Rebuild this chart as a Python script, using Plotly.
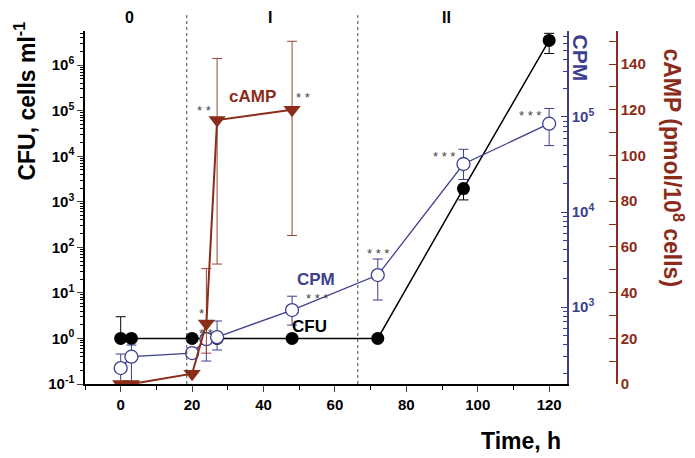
import plotly.graph_objects as go
import numpy as np

# time points (h)
t_cfu = [0, 3, 20, 24, 27, 48, 72, 96, 120]
cfu = [1, 1, 1, 1, 1, 1, 1, 1950, 3.5e6]
cfu_up = [2, None, None, None, None, None, None, None, 1.5e6]
cfu_dn = [None, None, None, None, None, None, None, 850, 1.7e6]

t_cpm = [0, 3, 20, 24, 27, 48, 72, 96, 120]
cpm = [228, 300, 328, 460, 483, 930, 2170, 32000, 85000]
cpm_up = [92, 98, None, 253, 230, 370, 1030, 13700, 38000]
cpm_dn = [90, 140, None, 190, 130, 285, 985, 10000, 35000]

t_camp = [0, 3, 20, 24, 27, 48]
camp = [0, 0, 4.5, 26.5, 115.5, 120]
camp_up = [None, None, None, 24, 27, 30]
camp_dn = [None, None, None, 13, 63, 55]

stars_cpm = {24: "* *", 48: "* * *", 72: "* * *", 96: "* * *", 120: "* * *"}
stars_camp = {24: "*", 27: "* *", 48: "* *"}

phase_x = [18.5, 66.4]
phase_lbl = [(2.6, "0"), (41.8, "I"), (91.3, "II")]

BROWN = "#8B2C1A"
BLUE = "#3C3F8E"
FONT = "Liberation Sans"

fig = go.Figure()

fig.add_trace(go.Scatter(
    x=t_cfu, y=cfu, mode="lines+markers", yaxis="y",
    line=dict(color="black", width=1.5),
    marker=dict(symbol="circle", size=13, color="black"),
    error_y=dict(type="data", symmetric=False, array=cfu_up, arrayminus=cfu_dn,
                 color="black", thickness=1, width=5),
    showlegend=False))

fig.add_trace(go.Scatter(
    x=t_cpm, y=cpm, mode="lines+markers", yaxis="y2",
    line=dict(color=BLUE, width=1.3),
    marker=dict(symbol="circle", size=13, color="white", line=dict(color=BLUE, width=1.3)),
    error_y=dict(type="data", symmetric=False, array=cpm_up, arrayminus=cpm_dn,
                 color=BLUE, thickness=1, width=5),
    showlegend=False))

fig.add_trace(go.Scatter(
    x=t_camp, y=camp, mode="lines+markers", yaxis="y3",
    line=dict(color=BROWN, width=2),
    marker=dict(symbol="triangle-down", size=15, color=BROWN),
    error_y=dict(type="data", symmetric=False, array=camp_up, arrayminus=camp_dn,
                 color="#9A4532", thickness=1, width=5),
    showlegend=False))

bold = dict(family=FONT, size=15, color="black", weight="bold")

# page body adds an 8px offset, margins compensate for it
fig.update_layout(
    width=695, height=458,
    margin=dict(l=77, r=68, t=23, b=82),
    plot_bgcolor="white", paper_bgcolor="white",
    xaxis=dict(domain=[0, 482 / 550], range=[-10, 125], tickvals=list(range(0, 121, 20)),
               ticks="outside", ticklen=6, tickwidth=1.3, showline=True, linecolor="black",
               linewidth=1.5, showgrid=False, zeroline=False, tickfont=bold,
               minor=dict(dtick=10, ticks="outside", ticklen=4, tickcolor="black")),
    yaxis=dict(type="log", range=[-1, 6.75], tickvals=[10.0 ** k for k in range(-1, 7)],
               ticktext=["10<sup>%d</sup>" % k for k in range(-1, 7)],
               ticks="outside", ticklen=6, tickwidth=1.3, showline=True, linecolor="black",
               linewidth=1.5, showgrid=False, zeroline=False, tickfont=bold,
               minor=dict(dtick="D1", ticks="outside", ticklen=3, tickcolor="black")),
    yaxis2=dict(type="log", range=[2.19, 5.905], overlaying="y", side="right", anchor="x",
                tickvals=[1e3, 1e4, 1e5], ticktext=["10<sup>3</sup>", "10<sup>4</sup>", "10<sup>5</sup>"],
                ticks="inside", ticklen=6, tickwidth=1.3, tickcolor=BLUE, showline=True,
                linecolor=BLUE, linewidth=1.5, showgrid=False, zeroline=False,
                tickfont=dict(family=FONT, size=15, color=BLUE, weight="bold"),
                minor=dict(dtick="D1", ticks="inside", ticklen=4, tickcolor=BLUE)),
    yaxis3=dict(range=[0, 154.5], overlaying="y", side="right", anchor="free",
                position=532 / 550, tickvals=list(range(0, 141, 20)),
                ticks="inside", ticklen=7, tickwidth=1.3, tickcolor=BROWN, showline=True,
                linecolor=BROWN, linewidth=1.5, showgrid=False, zeroline=False,
                tickfont=dict(family=FONT, size=15, color=BROWN, weight="bold"),
                minor=dict(dtick=10, ticks="inside", ticklen=7, tickcolor=BROWN)),
)

for xv in phase_x:
    fig.add_shape(type="line", xref="x", yref="paper", x0=xv, x1=xv, y0=0, y1=1.045,
                  line=dict(color="#444", width=1, dash="dot"))

ann = []
for xv, txt in phase_lbl:
    ann.append(dict(x=xv, y=1.037, xref="x", yref="paper", yanchor="middle", text=txt,
                    showarrow=False, font=dict(family=FONT, size=16, color="black", weight="bold")))

# axis titles
ann.append(dict(x=-0.109, y=1.031, xref="paper", yref="paper", xanchor="center", yanchor="top",
                text="CFU, cells ml<sup>-1</sup>", textangle=-90, showarrow=False,
                font=dict(family=FONT, size=23, color="black", weight="bold")))
ann.append(dict(x=0.869, y=-0.161, xref="paper", yref="paper", xanchor="right", yanchor="middle",
                text="Time, h", showarrow=False,
                font=dict(family=FONT, size=23, color="black", weight="bold")))
ann.append(dict(x=0.9, y=0.997, xref="paper", yref="paper", xanchor="center", yanchor="top",
                text="CPM", textangle=90, showarrow=False,
                font=dict(family=FONT, size=21, color=BLUE, weight="bold")))
ann.append(dict(x=1.069, y=0.955, xref="paper", yref="paper", xanchor="center", yanchor="top",
                text="cAMP (pmol/10<sup>8</sup> cells)", textangle=90, showarrow=False,
                font=dict(family=FONT, size=23, color=BROWN, weight="bold")))

# series labels
ann.append(dict(x=37, y=126, xref="x", yref="y3", text="cAMP", showarrow=False,
                font=dict(family=FONT, size=17, color=BROWN, weight="bold")))
ann.append(dict(x=54.7, y=3.29, xref="x", yref="y2", text="CPM", showarrow=False,
                font=dict(family=FONT, size=17, color=BLUE, weight="bold")))
ann.append(dict(x=53, y=0.27, xref="x", yref="y", text="CFU", showarrow=False,
                font=dict(family=FONT, size=17, color="black", weight="bold")))

# significance marks
star_font = dict(family=FONT, size=13, color="#444")
cpm_shift = {24: (0, 6), 48: (25, 12), 72: (0, 22), 96: (-19, 8), 120: (-19, 8)}
for tv, s in stars_cpm.items():
    v = cpm[t_cpm.index(tv)]
    dx, dy = cpm_shift[tv]
    ann.append(dict(x=tv, y=np.log10(v), xref="x", yref="y2", text=s, showarrow=False,
                    xshift=dx, yshift=dy, font=star_font))
camp_shift = {24: (-5, 10), 27: (-13, 10), 48: (11, 12)}
for tv, s in stars_camp.items():
    v = camp[t_camp.index(tv)]
    dx, dy = camp_shift[tv]
    ann.append(dict(x=tv, y=v, xref="x", yref="y3", text=s, showarrow=False,
                    xshift=dx, yshift=dy, font=star_font))

fig.update_layout(annotations=ann)
fig.write_html("out.html")
